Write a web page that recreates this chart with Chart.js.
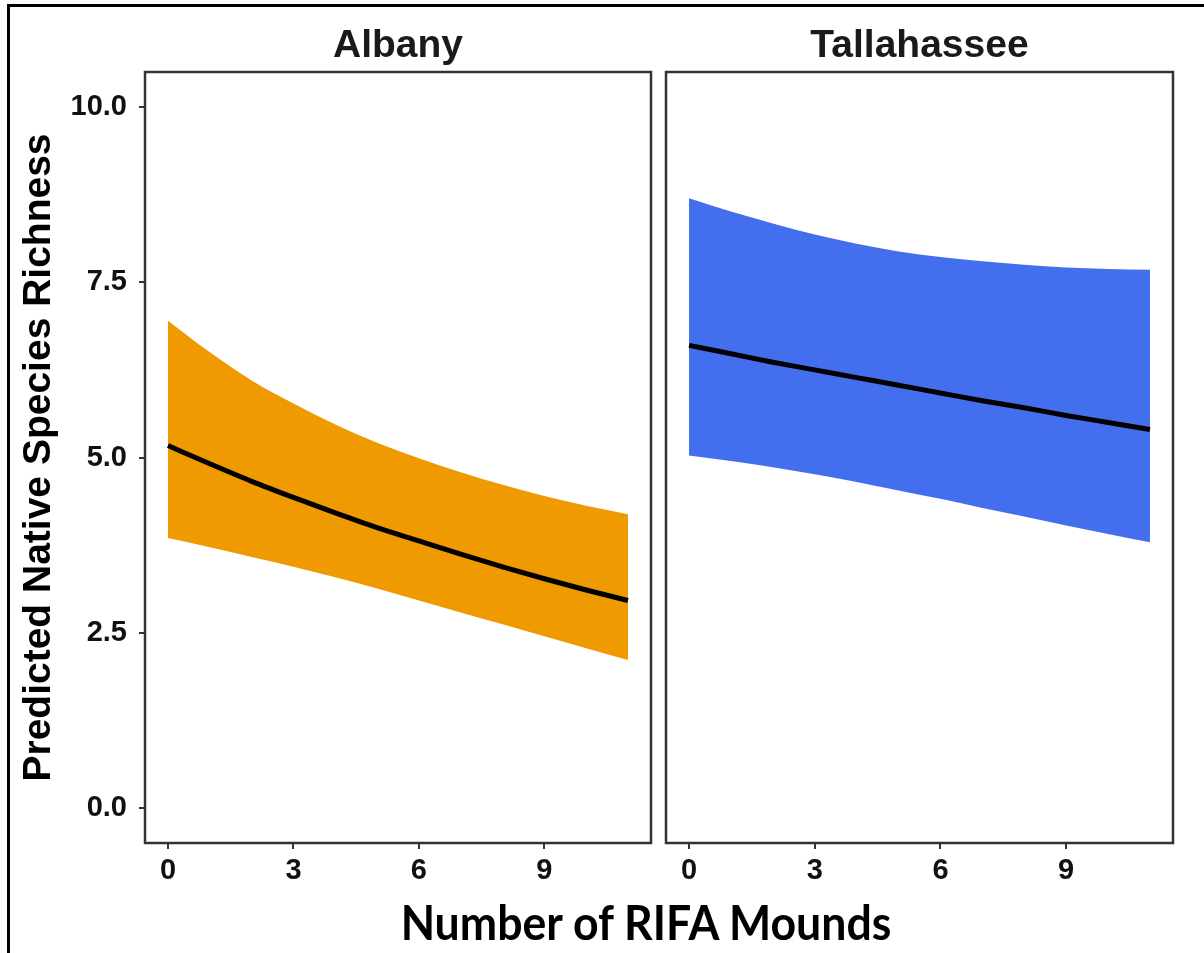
<!DOCTYPE html>
<html>
<head>
<meta charset="utf-8">
<script src="https://cdn.jsdelivr.net/npm/chart.js@4.4.1/dist/chart.umd.min.js"></script>
<style>
  html, body { margin: 0; padding: 0; background: #fff; }
  #wrap { position: relative; width: 1204px; height: 953px; overflow: hidden; }
  #frame { position: absolute; left: 7px; top: 4px; width: 1210px; height: 960px; border-left: 3px solid #000; border-top: 3px solid #000; }
  canvas { position: absolute; top: 1px; }
  #left { left: 0; }
  #right { left: 655px; }
  #xtitle { position: absolute; left: 346px; width: 600px; top: 893px; text-align: center;
            font: bold 48px Lato, "Open Sans", sans-serif; line-height: 1.2; color: #000;
            transform: scaleX(0.93); }
</style>
</head>
<body>
<div id="wrap">
  <div id="frame"></div>
  <canvas id="left" width="655" height="952"></canvas>
  <canvas id="right" width="549" height="952"></canvas>
  <div id="xtitle">Number of RIFA Mounds</div>
</div>
<script>
// number of mounds (x) where the model curve was read
const mounds = [0, 1, 2, 3, 4, 5, 6, 7, 8, 9, 10, 11];

// Albany: fitted richness and confidence band
const albanyFit   = [5.17, 4.91, 4.66, 4.43, 4.21, 4.00, 3.81, 3.62, 3.44, 3.27, 3.11, 2.96];
const albanyUpper = [6.95, 6.50, 6.10, 5.77, 5.47, 5.21, 4.99, 4.79, 4.61, 4.45, 4.31, 4.19];
const albanyLower = [3.85, 3.72, 3.58, 3.44, 3.29, 3.13, 2.96, 2.79, 2.62, 2.45, 2.28, 2.11];

// Tallahassee
const tallyFit   = [6.60, 6.48, 6.36, 6.25, 6.14, 6.03, 5.92, 5.81, 5.71, 5.60, 5.50, 5.40];
const tallyUpper = [8.70, 8.51, 8.34, 8.18, 8.05, 7.94, 7.86, 7.80, 7.75, 7.71, 7.69, 7.68];
const tallyLower = [5.03, 4.95, 4.86, 4.76, 4.65, 4.53, 4.41, 4.28, 4.16, 4.03, 3.91, 3.79];

const xTicks = [0, 3, 6, 9];
const yTicks = [0, 2.5, 5, 7.5, 10];

const FONT = '"Liberation Sans", Arial, sans-serif';
const pts = ys => mounds.map((x, i) => ({ x, y: ys[i] }));

// ggplot style full box around the panel + facet title centred on it
const panelBox = {
  id: 'panelBox',
  afterDraw(chart, args, opts) {
    const { ctx, chartArea: a } = chart;
    ctx.save();
    ctx.strokeStyle = '#333';
    ctx.lineWidth = 2.5;
    ctx.strokeRect(a.left, a.top, a.right - a.left, a.bottom - a.top);
    ctx.fillStyle = '#1a1a1a';
    ctx.font = 'bold 39px ' + FONT;
    ctx.textAlign = 'center';
    ctx.textBaseline = 'alphabetic';
    ctx.fillText(opts.text, (a.left + a.right) / 2, a.top - 15);
    ctx.restore();
  }
};

function makePanel(id, name, fit, upper, lower, colour, showY) {
  return new Chart(document.getElementById(id), {
    type: 'line',
    data: {
      datasets: [
        { data: pts(fit), borderColor: '#000', borderWidth: 5, pointRadius: 0, fill: false, order: 0, cubicInterpolationMode: 'monotone' },
        { data: pts(lower), borderWidth: 0, pointRadius: 0, fill: false, order: 2, cubicInterpolationMode: 'monotone' },
        { data: pts(upper), borderWidth: 0, pointRadius: 0, fill: '-1', order: 1, backgroundColor: colour, cubicInterpolationMode: 'monotone' }
      ]
    },
    options: {
      responsive: false,
      animation: false,
      layout: { padding: showY ? { left: 0, right: 4, top: 71, bottom: 0 } : { left: 11, right: 31, top: 71, bottom: 0 } },
      plugins: {
        legend: { display: false },
        tooltip: { enabled: false },
        title: { display: false },
        panelBox: { text: name }
      },
      scales: {
        x: {
          type: 'linear', min: -0.55, max: 11.55,
          afterBuildTicks: s => { s.ticks = xTicks.map(v => ({ value: v })); },
          afterFit: s => { s.height = 110; },
          grid: { drawOnChartArea: false, drawTicks: true, tickLength: 6, color: '#333', lineWidth: 2 },
          border: { display: false },
          ticks: { color: '#111', padding: 5, font: { family: FONT, size: 29, weight: 'bold' } }
        },
        y: {
          display: showY, min: -0.5, max: 10.5,
          afterBuildTicks: s => { s.ticks = yTicks.map(v => ({ value: v })); },
          afterFit: s => { s.width = showY ? 145 : 0; },
          grid: { drawOnChartArea: false, drawTicks: true, tickLength: 6, color: '#333', lineWidth: 2 },
          border: { display: false },
          ticks: {
            color: '#111', padding: 12,
            font: { family: FONT, size: 29, weight: 'bold' },
            callback: v => v.toFixed(1)
          },
          title: {
            display: true, text: 'Predicted Native Species Richness', color: '#000',
            font: { family: FONT, size: 39, weight: 'bold' },
            padding: { top: 16, bottom: 0 }
          }
        }
      }
    },
    plugins: [panelBox]
  });
}

makePanel('left', 'Albany', albanyFit, albanyUpper, albanyLower, '#EE9A00', true);
makePanel('right', 'Tallahassee', tallyFit, tallyUpper, tallyLower, '#436EEE', false);
</script>
</body>
</html>
